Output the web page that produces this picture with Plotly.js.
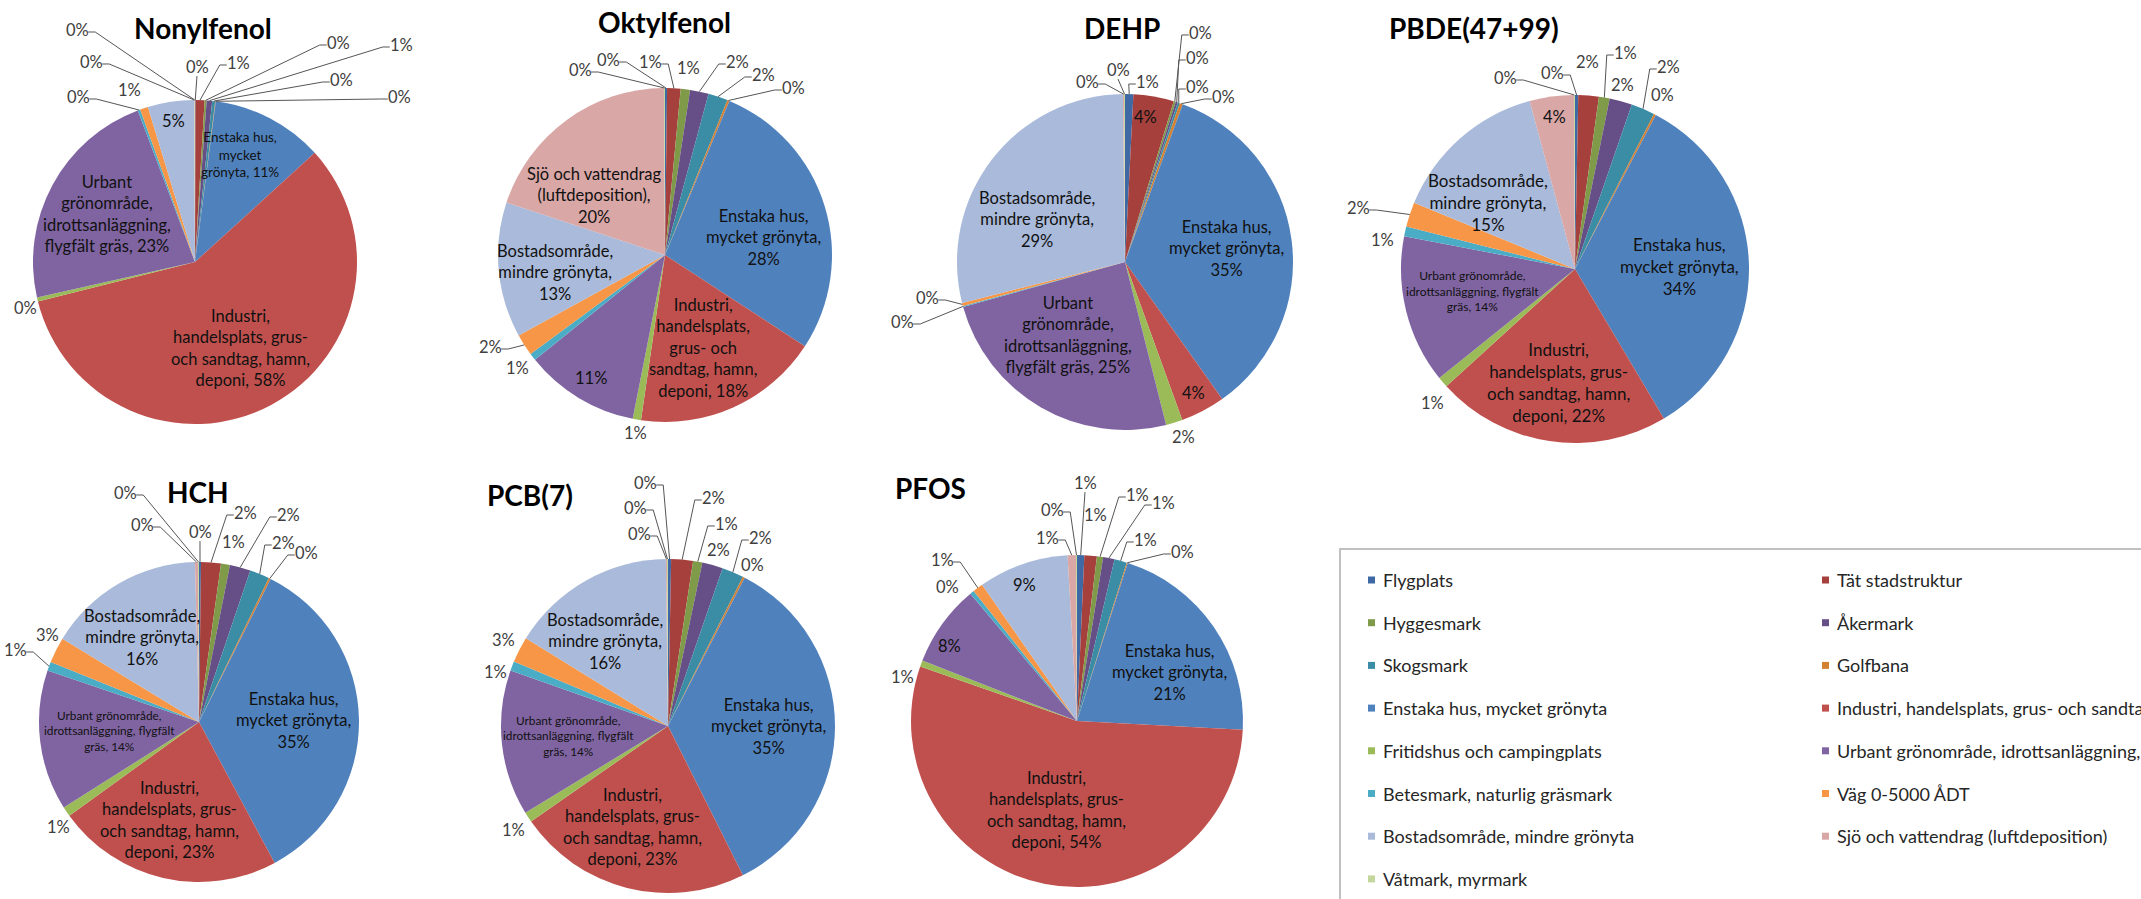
<!DOCTYPE html>
<html>
<head>
<meta charset="utf-8">
<script src="https://cdn.plot.ly/plotly-3.0.1.min.js"></script>
<style>
  html, body { margin: 0; padding: 0; background: #ffffff; }
  #chart { width: 2141px; height: 899px; }
</style>
</head>
<body>
<div id="chart"></div>
<script>
// Land-use categories, in slice order (clockwise from 12 o'clock)
const categories = [
  "Flygplats",
  "Tät stadstruktur",
  "Hyggesmark",
  "Åkermark",
  "Skogsmark",
  "Golfbana",
  "Enstaka hus, mycket grönyta",
  "Industri, handelsplats, grus- och sandtag, hamn, deponi",
  "Fritidshus och campingplats",
  "Urbant grönområde, idrottsanläggning, flygfält gräs",
  "Betesmark, naturlig gräsmark",
  "Väg 0-5000 ÅDT",
  "Bostadsområde, mindre grönyta",
  "Sjö och vattendrag (luftdeposition)",
  "Våtmark, myrmark"
];

// Share of load per land-use category (%)
const nonylfenol = [0.05, 0.9, 0.2, 0.55, 0.3, 0.05, 11.2, 57.9, 0.4, 22.8, 0.25, 0.8, 4.6, 0.05, 0.05];
const oktylfenol = [0.2, 1.3, 0.9, 1.8, 1.9, 0.2, 27.9, 18.1, 0.8, 11.1, 0.7, 2.1, 13.1, 19.8, 0.1];
const dehp       = [0.8, 3.9, 0.2, 0.2, 0.2, 0.3, 34.7, 4.3, 1.6, 24.7, 0.1, 0.3, 28.8, 0.1, 0.1];
const pbde       = [0.3, 1.9, 1.0, 2.1, 2.2, 0.2, 33.8, 21.8, 1.0, 13.8, 0.9, 2.3, 14.6, 4.1, 0.1];
const hch        = [0.2, 2.0, 0.9, 2.1, 2.0, 0.2, 34.8, 22.9, 1.0, 14.2, 0.9, 2.6, 15.9, 0.3, 0.1];
const pcb7       = [0.3, 2.1, 0.9, 2.0, 2.1, 0.2, 35.0, 22.7, 1.0, 14.1, 0.9, 2.5, 16.0, 0.1, 0.1];
const pfos       = [0.7, 1.2, 0.6, 1.1, 1.2, 0.1, 20.7, 54.0, 0.6, 7.9, 0.4, 1.0, 8.7, 0.8, 0.1];

const titles = ["Nonylfenol", "Oktylfenol", "DEHP", "PBDE(47+99)", "HCH", "PCB(7)", "PFOS"];

const colors = [
  "#3e69a4", "#a5403d", "#7f9a48", "#664f86", "#3a8da5", "#d38033",
  "#4f81bd", "#c0504d", "#9bbb59", "#8064a2", "#4bacc6", "#f79646",
  "#a9bada", "#d9a7a6", "#c3d69b"
];

const W = 2141, H = 899;
const FONT = "Lato, 'Open Sans', sans-serif";

// Placement of each pie and its labels (pixels).
// inside: [slice, text, radial fraction, angle shift (deg), font size]
// outside: [slice, dx, dy from centre, leader line 1/0]
const ENST3 = "Enstaka hus,<br>mycket grönyta,<br>{p}";
const IND4 = "Industri,<br>handelsplats, grus-<br>och sandtag, hamn,<br>deponi, {p}";
const BOST3 = "Bostadsområde,<br>mindre grönyta,<br>{p}";
const URB_SMALL = "Urbant grönområde,<br>idrottsanläggning, flygfält<br>gräs, {p}";
const URB4 = "Urbant<br>grönområde,<br>idrottsanläggning,<br>flygfält gräs, {p}";

const pies = [
  { values: nonylfenol, cx: 195, cy: 262, r: 162, tx: 203, ty: 28,
    inside: [[6, "Enstaka hus,<br>mycket<br>grönyta, {p}", 0.72, -5, 13.5],
             [7, IND4, 0.6, 0, 16.5], [9, URB4, 0.62, 0, 16.5], [12, "{p}", 0.88, 0, 16.5]],
    outside: [[0, 2, -195, 1], [1, 43, -199, 1], [2, 143, -219, 1], [3, 206, -217, 1],
              [4, 146, -182, 1], [5, 204, -165, 1], [8, -170, 46, 0], [10, -117, -165, 1],
              [11, -66, -172, 0], [13, -104, -200, 1], [14, -118, -232, 1]] },
  { values: oktylfenol, cx: 665, cy: 255, r: 167, tx: 664, ty: 22,
    inside: [[6, ENST3, 0.6, 7, 16.5], [7, "Industri,<br>handelsplats,<br>grus- och<br>sandtag, hamn,<br>deponi, {p}", 0.6, 2, 16.5],
             [9, "{p}", 0.86, 0, 16.5], [12, BOST3, 0.67, -4, 16.5],
             [13, "Sjö och vattendrag<br>(luftdeposition),<br>{p}", 0.55, -14, 16.5]],
    outside: [[14, -85, -185, 1], [0, -57, -195, 1], [1, -15, -193, 1], [2, 23, -187, 0],
              [3, 72, -193, 1], [4, 98, -180, 1], [5, 128, -167, 1], [11, -175, 92, 1],
              [10, -148, 113, 0], [8, -30, 178, 0]] },
  { values: dehp, cx: 1125, cy: 262, r: 168, tx: 1122, ty: 28,
    inside: [[1, "{p}", 0.87, -2, 16.5], [6, ENST3, 0.61, 0, 16.5], [7, "{p}", 0.88, 0, 16.5],
             [9, URB4, 0.55, 8, 16.5], [12, BOST3, 0.58, -12, 16.5]],
    outside: [[13, -38, -180, 1], [14, -7, -192, 1], [0, 22, -180, 1], [2, 75, -229, 1],
              [3, 72, -204, 1], [4, 72, -175, 1], [5, 98, -165, 1], [8, 58, 175, 0],
              [10, -223, 60, 1], [11, -198, 36, 1]] },
  { values: pbde, cx: 1575, cy: 269, r: 174, tx: 1474, ty: 28,
    inside: [[13, "{p}", 0.88, 0, 16.5], [6, ENST3, 0.6, 0, 17], [7, IND4, 0.66, 0, 17],
             [9, URB_SMALL, 0.6, 2, 12], [12, BOST3, 0.63, -11, 17]],
    outside: [[14, -70, -191, 1], [0, -23, -196, 1], [1, 12, -207, 0], [2, 50, -216, 1],
              [3, 47, -184, 0], [4, 93, -202, 1], [5, 87, -174, 0], [8, -143, 134, 0],
              [10, -193, -29, 0], [11, -217, -61, 1]] },
  { values: hch, cx: 199, cy: 722, r: 160, tx: 198, ty: 492,
    inside: [[6, ENST3, 0.59, 0, 16.5], [7, IND4, 0.64, 4, 16.5], [9, URB_SMALL, 0.56, 1, 11.8],
             [12, BOST3, 0.64, -4, 16.5]],
    outside: [[14, -74, -229, 1], [13, -57, -197, 1], [0, 1, -190, 1], [1, 46, -209, 1],
              [2, 34, -180, 0], [3, 89, -207, 1], [4, 84, -179, 1], [5, 107, -169, 1],
              [11, -152, -87, 0], [10, -184, -72, 1], [8, -141, 105, 0]] },
  { values: pcb7, cx: 668, cy: 726, r: 167, tx: 530, ty: 495,
    inside: [[6, ENST3, 0.6, 0, 16.5], [7, IND4, 0.64, 5, 16.5], [9, URB_SMALL, 0.6, 0, 11.8],
             [12, BOST3, 0.63, -7, 16.5]],
    outside: [[0, -23, -243, 1], [14, -33, -218, 1], [13, -29, -192, 1], [1, 45, -228, 1],
              [2, 58, -202, 1], [3, 50, -176, 0], [4, 92, -188, 1], [5, 84, -161, 0],
              [11, -165, -86, 0], [10, -173, -54, 0], [8, -155, 104, 0]] },
  { values: pfos, cx: 1077, cy: 721, r: 166, tx: 930, ty: 488,
    inside: [[6, ENST3, 0.63, 7, 16.5], [7, IND4, 0.55, 2, 16.5], [9, "{p}", 0.89, -5, 16.5],
             [12, "{p}", 0.88, -2, 16.5]],
    outside: [[0, 8, -238, 1], [14, -25, -211, 1], [1, 18, -206, 0], [2, 60, -226, 1],
              [3, 86, -218, 1], [13, -30, -183, 1], [4, 68, -181, 1], [5, 105, -169, 1],
              [11, -135, -161, 1], [10, -130, -134, 0], [8, -175, -44, 0]] }
];

const px = x => x / W;
const py = y => 1 - y / H;

const traces = [];
const annotations = [];
const shapes = [];

pies.forEach((p, k) => {
  const vals = p.values;
  const total = vals.reduce((a, b) => a + b, 0);
  const cum = [];
  let run = 0;
  vals.forEach(v => { cum.push(run); run += v; });
  const pct = i => Math.round(vals[i] / total * 100) + "%";
  const midAngle = i => (cum[i] + vals[i] / 2) / total * 2 * Math.PI;

  traces.push({
    type: "pie",
    labels: categories,
    values: vals,
    sort: false,
    direction: "clockwise",
    rotation: 0,
    textinfo: "none",
    hoverinfo: "skip",
    showlegend: false,
    marker: { colors: colors, line: { width: 0 } },
    domain: { x: [px(p.cx - p.r), px(p.cx + p.r)], y: [py(p.cy + p.r), py(p.cy - p.r)] }
  });

  // chart title
  annotations.push({
    xref: "paper", yref: "paper", x: px(p.tx), y: py(p.ty),
    text: "<b>" + titles[k] + "</b>", showarrow: false,
    xanchor: "center", yanchor: "middle",
    font: { family: FONT, size: 28, color: "#000000" }
  });

  // labels inside the slices
  p.inside.forEach(([i, tpl, f, da, size]) => {
    const a = midAngle(i) + da * Math.PI / 180;
    const x = p.cx + f * p.r * Math.sin(a);
    const y = p.cy - f * p.r * Math.cos(a);
    annotations.push({
      xref: "paper", yref: "paper", x: px(x), y: py(y),
      text: tpl.replace("{p}", pct(i)), showarrow: false,
      xanchor: "center", yanchor: "middle", align: "center",
      font: { family: FONT, size: size, color: "#111111" }
    });
  });

  // labels outside the slices, with leader lines
  p.outside.forEach(([i, dx, dy, line]) => {
    const lx = p.cx + dx, ly = p.cy + dy;
    const txt = pct(i);
    const size = 16.5;
    annotations.push({
      xref: "paper", yref: "paper", x: px(lx), y: py(ly),
      text: txt, showarrow: false, xanchor: "center", yanchor: "middle",
      font: { family: FONT, size: size, color: "#404040" }
    });
    if (!line) return;
    const a = midAngle(i);
    const ex = p.cx + p.r * Math.sin(a);
    const ey = p.cy - p.r * Math.cos(a);
    const w = txt.length * size * 0.62;
    let pts;
    if (ex > lx + w / 2) {
      const sx = lx + w / 2 + 1;
      pts = [[sx, ly + 2], [sx + 7, ly + 2], [ex, ey]];
    } else if (ex < lx - w / 2) {
      const sx = lx - w / 2 - 1;
      pts = [[sx, ly + 2], [sx - 7, ly + 2], [ex, ey]];
    } else {
      pts = [[lx, ly + size * 0.55], [ex, ey]];
    }
    const path = pts.map((q, j) => (j ? "L" : "M") + px(q[0]).toFixed(5) + "," + py(q[1]).toFixed(5)).join(" ");
    shapes.push({
      type: "path", xref: "paper", yref: "paper", path: path,
      line: { color: "#555555", width: 1 }, layer: "above"
    });
  });
});

// Legend box: two columns of colour keys; the frame runs past the right and bottom edges
shapes.push({
  type: "rect", xref: "paper", yref: "paper",
  x0: px(1340), x1: px(2400), y0: py(549), y1: py(1000),
  line: { color: "#c0c0c0", width: 2 }, fillcolor: "rgba(0,0,0,0)", layer: "below"
});
const legendCols = [1368, 1822];
const legendRow0 = 580, legendStep = 42.7;
categories.forEach((name, i) => {
  const col = i % 2, row = Math.floor(i / 2);
  const x = legendCols[col], y = legendRow0 + row * legendStep;
  shapes.push({
    type: "rect", xref: "paper", yref: "paper",
    x0: px(x), x1: px(x + 7), y0: py(y + 3.5), y1: py(y - 3.5),
    fillcolor: colors[i], line: { width: 0 }
  });
  annotations.push({
    xref: "paper", yref: "paper", x: px(x + 13), y: py(y),
    text: name, showarrow: false, xanchor: "left", yanchor: "middle",
    font: { family: FONT, size: 18, color: "#262626" }
  });
});

const layout = {
  width: W, height: H,
  margin: { l: 0, r: 0, t: 0, b: 0 },
  paper_bgcolor: "#ffffff",
  showlegend: false,
  annotations: annotations,
  shapes: shapes
};

Plotly.newPlot("chart", traces, layout, { staticPlot: true, displayModeBar: false });
</script>
</body>
</html>
